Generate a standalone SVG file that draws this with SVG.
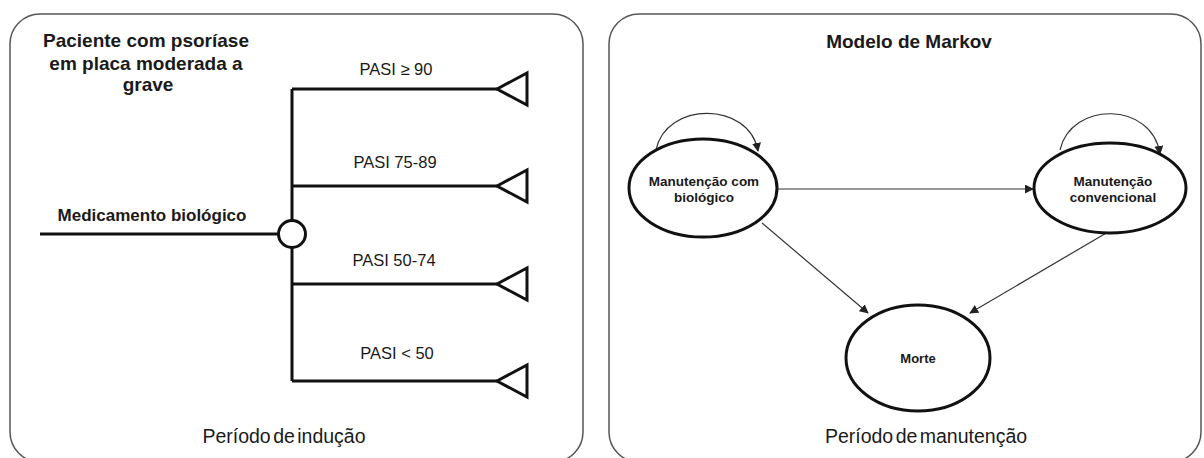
<svg xmlns="http://www.w3.org/2000/svg" width="1204" height="458" viewBox="0 0 1204 458">
<style>
.panel{fill:#fff;stroke:#555;stroke-width:1.5}
.t{font-family:"Liberation Sans",Arial,sans-serif;fill:#1a1a1a}
.b{font-weight:bold}
.tree{stroke:#111;stroke-width:3;fill:none}
.tri{stroke:#111;stroke-width:3;fill:#fff;stroke-linejoin:miter}
.state{fill:#fff;stroke:#111;stroke-width:3}
.edge{stroke:#333;stroke-width:1.2;fill:none;marker-end:url(#ah)}
</style>
<defs>
<marker id="ah" viewBox="0 0 10 10" refX="9" refY="5" markerWidth="9" markerHeight="9" markerUnits="userSpaceOnUse" orient="auto">
<path d="M0,0 L10,5 L0,10 z" fill="#222"/>
</marker>
</defs>
<rect width="1204" height="458" fill="#fff"/>
<g id="panel-inducao">
<rect class="panel" x="10" y="14" width="573" height="448" rx="30"/>
<text class="t b" x="146" y="47" font-size="19" text-anchor="middle">Paciente com psoríase</text>
<text class="t b" x="146" y="70" font-size="19" text-anchor="middle">em placa moderada a</text>
<text class="t b" x="148" y="91" font-size="19" text-anchor="middle">grave</text>
<text class="t" x="284" y="443" font-size="19.5" text-anchor="middle" word-spacing="-3">Período de indução</text>
</g>
<g id="panel-manutencao">
<rect class="panel" x="609" y="14" width="592" height="448" rx="30"/>
<text class="t b" x="909" y="48" font-size="19" text-anchor="middle">Modelo de Markov</text>
<text class="t" x="926" y="443" font-size="19.5" text-anchor="middle" word-spacing="-3">Período de manutenção</text>
</g>
<g id="connectors">
<path class="tree" d="M40,234 H279"/>
<path class="tree" d="M292,89 V381"/>
<path class="tree" d="M292,89 H497"/>
<path class="tree" d="M292,186 H497"/>
<path class="tree" d="M292,284 H497"/>
<path class="tree" d="M292,381 H497"/>
<path class="edge" d="M656,150 C666,101 749,101 758,151"/>
<path class="edge" d="M1060,150 C1071,101 1152,101 1160,154"/>
<path class="edge" d="M777,189 H1033"/>
<path class="edge" d="M762,223 L868,313"/>
<path class="edge" d="M1108,232 L970,313"/>
</g>
<g id="chance-node">
<circle class="tri" cx="292" cy="234" r="13.5" stroke-width="2.5"/>
</g>
<g id="label-medicamento">
<text class="t b" x="152" y="221" font-size="17" text-anchor="middle">Medicamento biológico</text>
</g>
<g id="branch-pasi90">
<text class="t" x="396" y="75" font-size="16.5" text-anchor="middle">PASI ≥ 90</text>
<polygon class="tri" points="497,89 527,73 527,105"/>
</g>
<g id="branch-pasi75">
<text class="t" x="395" y="168" font-size="16.5" text-anchor="middle">PASI 75-89</text>
<polygon class="tri" points="497,186 527,170 527,202"/>
</g>
<g id="branch-pasi50">
<text class="t" x="394" y="266" font-size="16.5" text-anchor="middle">PASI 50-74</text>
<polygon class="tri" points="497,284 527,268 527,300"/>
</g>
<g id="branch-pasi-lt50">
<text class="t" x="397" y="359" font-size="16.5" text-anchor="middle">PASI &lt; 50</text>
<polygon class="tri" points="497,381 527,365 527,397"/>
</g>
<g id="state-biologico">
<ellipse class="state" cx="703" cy="188" rx="74" ry="49"/>
<text class="t b" x="704" y="186" font-size="13.5" text-anchor="middle">Manutenção com</text>
<text class="t b" x="704" y="202" font-size="13.5" text-anchor="middle">biológico</text>
</g>
<g id="state-convencional">
<ellipse class="state" cx="1110" cy="188" rx="76" ry="45"/>
<text class="t b" x="1113" y="186" font-size="13.5" text-anchor="middle">Manutenção</text>
<text class="t b" x="1113" y="202" font-size="13.5" text-anchor="middle">convencional</text>
</g>
<g id="state-morte">
<ellipse class="state" cx="918" cy="358" rx="72" ry="53"/>
<text class="t b" x="918" y="363" font-size="13" text-anchor="middle">Morte</text>
</g>
</svg>
